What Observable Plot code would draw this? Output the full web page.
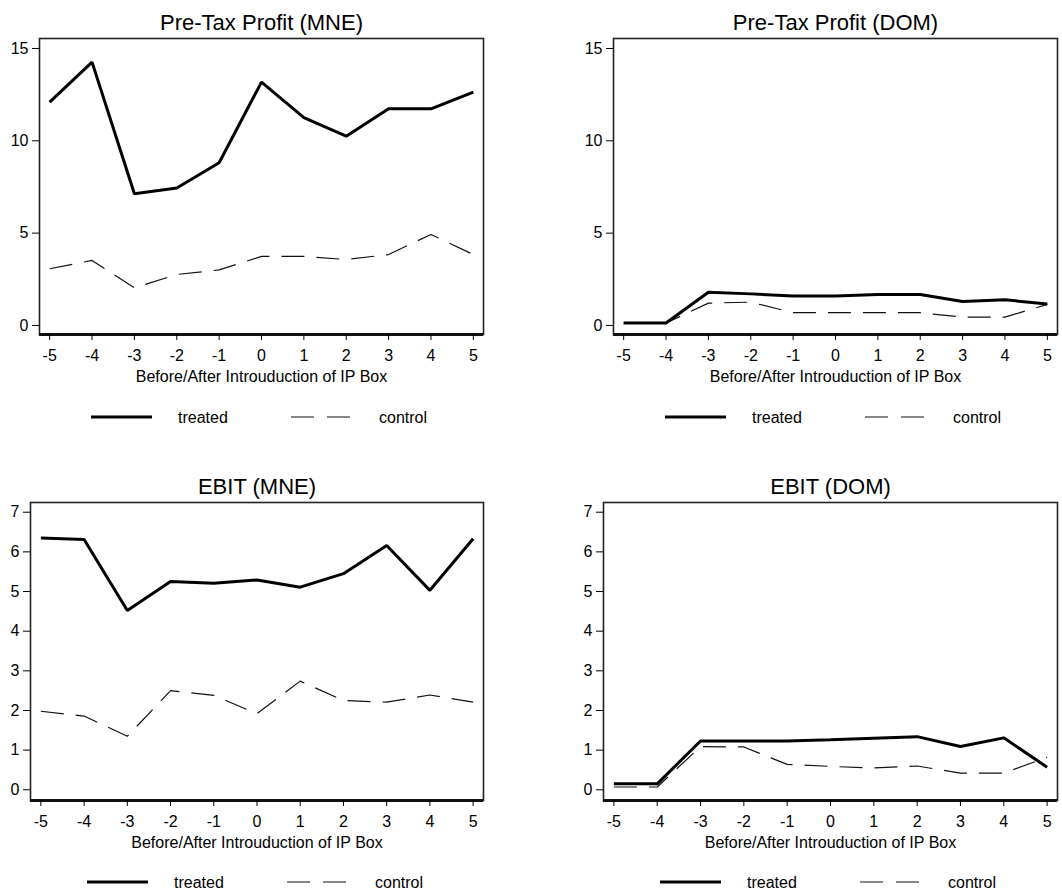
<!DOCTYPE html>
<html>
<head>
<meta charset="utf-8">
<script src="https://cdn.jsdelivr.net/npm/d3@7"></script>
<script src="https://cdn.jsdelivr.net/npm/@observablehq/plot@0.6"></script>
<style>
  html, body { margin: 0; padding: 0; background: #fff; }
  #root { position: relative; width: 1062px; height: 895px; font-family: "Liberation Sans", Arial, sans-serif; color: #000; }
  .panel { position: absolute; }
  .legend { position: absolute; }
</style>
</head>
<body>
<div id="root"></div>
<script>
// ---- data ----
const periods = [-5, -4, -3, -2, -1, 0, 1, 2, 3, 4, 5];
const xTicks = [-5, -4, -3, -2, -1, 0, 1, 2, 3, 4, 5];
const yTicksProfit = [0, 5, 10, 15];
const yTicksEbit = [0, 1, 2, 3, 4, 5, 6, 7];

const ptpMneTreated = [12.09, 14.26, 7.13, 7.44, 8.81, 13.18, 11.25, 10.25, 11.73, 11.73, 12.64];
const ptpMneControl = [3.07, 3.52, 2.04, 2.76, 3.01, 3.74, 3.74, 3.57, 3.84, 4.93, 3.84];
const ptpDomTreated = [0.13, 0.13, 1.80, 1.71, 1.60, 1.60, 1.68, 1.68, 1.30, 1.39, 1.16];
const ptpDomControl = [0.13, 0.13, 1.21, 1.26, 0.69, 0.69, 0.69, 0.69, 0.45, 0.45, 1.14];
const ebitMneTreated = [6.35, 6.31, 4.52, 5.25, 5.21, 5.29, 5.11, 5.45, 6.16, 5.03, 6.33];
const ebitMneControl = [1.98, 1.86, 1.35, 2.50, 2.38, 1.92, 2.74, 2.25, 2.21, 2.39, 2.21];
const ebitDomTreated = [0.15, 0.15, 1.23, 1.23, 1.23, 1.26, 1.30, 1.34, 1.09, 1.31, 0.57];
const ebitDomControl = [0.07, 0.07, 1.09, 1.08, 0.64, 0.59, 0.55, 0.60, 0.42, 0.42, 0.82];

const titles = ["Pre-Tax Profit (MNE)", "Pre-Tax Profit (DOM)", "EBIT (MNE)", "EBIT (DOM)"];
const xLabel = "Before/After Introuduction of IP Box";
const seriesNames = ["treated", "control"];

// ---- layout ----
const panels = [
  {title: titles[0], treated: ptpMneTreated, control: ptpMneControl, yTicks: yTicksProfit, yDomain: [-0.49, 15.54],
   left: 0, top: 0, width: 531, mL: 39, mR: 48, mT: 38, height: 390, mB: 56, legendTop: 405},
  {title: titles[1], treated: ptpDomTreated, control: ptpDomControl, yTicks: yTicksProfit, yDomain: [-0.49, 15.54],
   left: 531, top: 0, width: 531, mL: 82, mR: 5, mT: 38, height: 390, mB: 56, legendTop: 405},
  {title: titles[2], treated: ebitMneTreated, control: ebitMneControl, yTicks: yTicksEbit, yDomain: [-0.27, 7.245],
   left: 0, top: 464, width: 531, mL: 30, mR: 48, mT: 38, height: 390, mB: 54, legendTop: 870},
  {title: titles[3], treated: ebitDomTreated, control: ebitDomControl, yTicks: yTicksEbit, yDomain: [-0.27, 7.245],
   left: 531, top: 464, width: 531, mL: 72, mR: 5, mT: 38, height: 390, mB: 54, legendTop: 870}
];

const root = document.getElementById("root");
const FONT = "\"Liberation Sans\", Arial, sans-serif";
const plainFormat = d => String(d);

for (const p of panels) {
  const treatedRows = periods.map((t, i) => ({t, v: p.treated[i]}));
  const controlRows = periods.map((t, i) => ({t, v: p.control[i]}));
  const chart = Plot.plot({
    width: p.width,
    height: p.height,
    marginLeft: p.mL,
    marginRight: p.mR,
    marginTop: p.mT,
    marginBottom: p.mB,
    style: {font: `16px ${FONT}`, color: "#000", background: "transparent", overflow: "visible"},
    x: {domain: [-5.24, 5.24]},
    y: {domain: p.yDomain},
    marks: [
      Plot.line(controlRows, {x: "t", y: "v", stroke: "#111", strokeWidth: 1.2, strokeDasharray: "23,12", strokeLinejoin: "miter", strokeLinecap: "butt"}),
      Plot.line(treatedRows, {x: "t", y: "v", stroke: "#000", strokeWidth: 3, strokeLinejoin: "miter", strokeLinecap: "butt"}),
      Plot.frame({stroke: "#222", strokeWidth: 1.6}),
      Plot.ruleY([p.yDomain[0]], {stroke: "#111", strokeWidth: 3}),
      Plot.axisX(xTicks, {tickSize: 6, tickPadding: 9, label: null, fontSize: 16, tickFormat: plainFormat}),
      Plot.axisY(p.yTicks, {tickSize: 7, tickPadding: 4, label: null, fontSize: 16, tickFormat: plainFormat}),
      Plot.text([p.title], {frameAnchor: "top", lineAnchor: "middle", dy: -16, fontSize: 22, fill: "#000"}),
      Plot.text([xLabel], {frameAnchor: "bottom", lineAnchor: "middle", dy: 42, fontSize: 16, fill: "#000"})
    ]
  });
  chart.classList.add("panel");
  chart.style.left = p.left + "px";
  chart.style.top = p.top + "px";
  root.appendChild(chart);

  // legend below the plot
  const frameCenter = p.left + p.mL + (p.width - p.mL - p.mR) / 2;
  const lw = 345, lh = 24;
  const leg = d3.create("svg")
    .attr("class", "legend")
    .attr("width", lw).attr("height", lh)
    .style("left", (frameCenter - 170) + "px")
    .style("top", p.legendTop + "px")
    .style("font", `16px ${FONT}`);
  leg.append("line").attr("x1", 0).attr("x2", 61).attr("y1", 12).attr("y2", 12)
    .attr("stroke", "#000").attr("stroke-width", 3);
  leg.append("text").attr("x", 87).attr("y", 12).attr("dy", "0.35em").text(seriesNames[0]);
  leg.append("line").attr("x1", 200).attr("x2", 260).attr("y1", 12).attr("y2", 12)
    .attr("stroke", "#111").attr("stroke-width", 1.2).attr("stroke-dasharray", "23,13");
  leg.append("text").attr("x", 288).attr("y", 12).attr("dy", "0.35em").text(seriesNames[1]);
  root.appendChild(leg.node());
}
</script>
</body>
</html>
